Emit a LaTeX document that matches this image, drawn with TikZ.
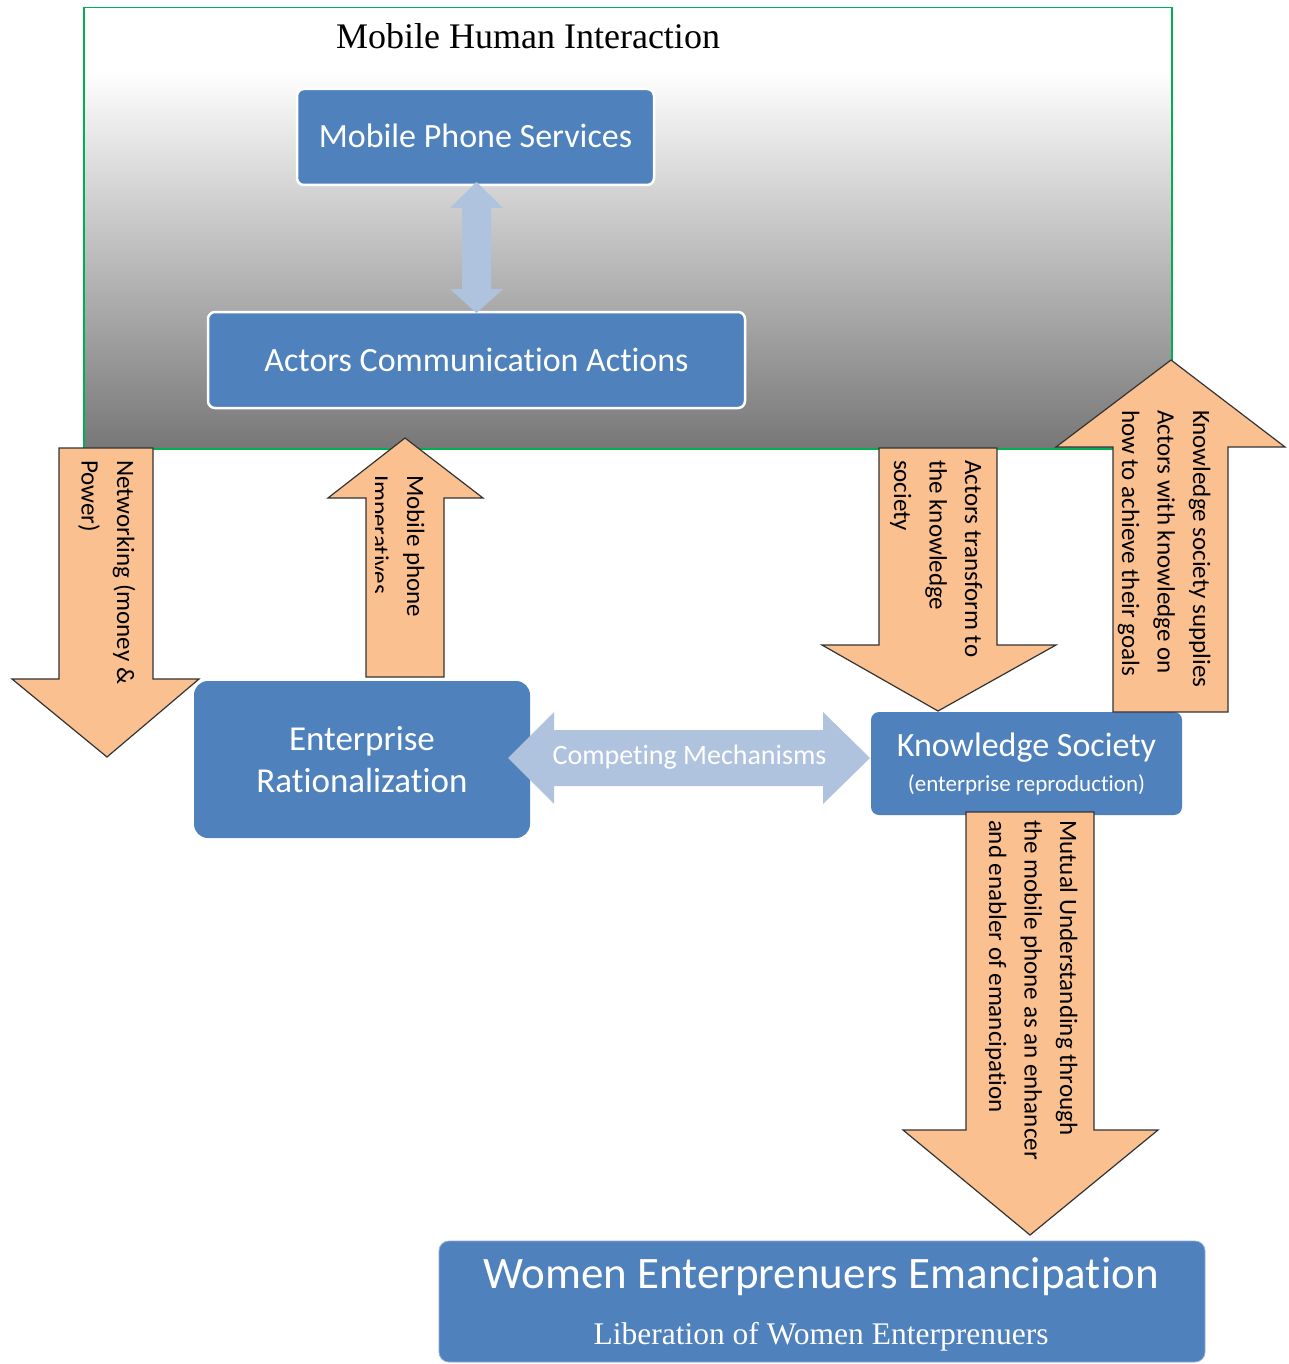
\documentclass[tikz,border=0pt]{standalone}
\usepackage{fontspec}
\setmainfont{Carlito}[Ligatures=NoCommon]
\newfontfamily\timesface{Liberation Serif}

\definecolor{boxblue}{HTML}{4F81BD}
\definecolor{peach}{HTML}{FAC090}
\definecolor{paleblue}{HTML}{B0C3DE}
\definecolor{framegreen}{HTML}{00B050}
\definecolor{shadebottom}{HTML}{777777}
\definecolor{shademid}{HTML}{C6C6C6}
% light at the top, darkening towards the bottom edge
\pgfdeclareverticalshading{mhishade}{100bp}{color(0bp)=(shadebottom); color(25bp)=(shadebottom); color(50bp)=(shademid); color(68bp)=(white); color(100bp)=(white)}

\newcommand\arrowstrut{\rule{0pt}{19pt}}

\begin{document}
\begin{tikzpicture}[x=1pt, y=-1pt,
  bluebox/.style={fill=boxblue, draw=none, text=white, inner sep=0pt},
  svcbox/.style={bluebox, draw=white, line width=2.5pt, rounded corners=7pt, font=\fontsize{34}{40}\selectfont},
  boxtext/.style={text=white, inner sep=0pt},
  blockarrow/.style={fill=peach, draw=black!80, line width=1.2pt, line join=miter},
  palearrow/.style={fill=paleblue, draw=none},
  arrowtext/.style={rotate=-90, anchor=north west, align=left, inner sep=0pt, outer sep=0pt, font=\fontsize{25}{35.5}\selectfont},
]
\useasboundingbox (0,0) rectangle (1289,1364);

% shaded frame of the mobile human interaction layer
\node[shading=mhishade, draw=framegreen, line width=1.5pt, anchor=north west,
      minimum width=1088pt, minimum height=441pt, inner sep=0pt] (mhi) at (83,7) {};
\node[font=\timesface\fontsize{36}{40}\selectfont, inner sep=0pt] (title) at (528,36) {Mobile Human Interaction};

% boxes inside the frame
\node[svcbox, minimum width=357pt, minimum height=96pt] (mps) at (475.5,137) {\raisebox{3pt}{Mobile Phone Services}};
\node[svcbox, minimum width=537pt, minimum height=96pt] (aca) at (476.5,360) {\raisebox{1pt}{Actors Communication Actions}};

% two-headed link between services and actions
\path[palearrow] (476.5,182) -- (503,208) -- (491,208) -- (491,289) -- (503,289) -- (476.5,313)
  -- (450,289) -- (462,289) -- (462,208) -- (450,208) -- cycle;

% enterprise and knowledge society boxes
\node[bluebox, minimum width=336pt, minimum height=157pt, rounded corners=14pt, align=center,
      font=\fontsize{35}{42}\selectfont] (ent) at (362,759.5) {Enterprise\\Rationalization};
\node[bluebox, minimum width=311pt, minimum height=103pt, rounded corners=8pt] (ks) at (1026.5,763.5) {};
\node[boxtext, font=\fontsize{34}{40}\selectfont] (kst) at (1026.5,748) {Knowledge Society};
\node[boxtext, font=\fontsize{23}{28}\selectfont] (ksu) at (1026.5,785) {(enterprise reproduction)};

% competing mechanisms two-headed arrow
\path[palearrow] (508,758) -- (554,712) -- (554,730) -- (823,730) -- (823,712) -- (870,758)
  -- (823,804) -- (823,786) -- (554,786) -- (554,804) -- cycle;
\node[boxtext, font=\fontsize{28}{32}\selectfont] (cm) at (689.5,757) {Competing Mechanisms};

% emancipation box
\node[bluebox, draw=white!35!boxblue, line width=0.8pt, minimum width=766pt, minimum height=121pt, rounded corners=10pt] (wee) at (822,1301.5) {};
\node[boxtext, font=\fontsize{45}{50}\selectfont] (weet) at (821,1277) {Women Enterprenuers Emancipation};
\node[boxtext, font=\timesface\fontsize{31.5}{36}\selectfont] (weeu) at (821,1337) {Liberation of Women Enterprenuers};

% block arrows
\path[blockarrow] (59,448) -- (153,448) -- (153,679) -- (199,679) -- (107,757) -- (12,679) -- (59,679) -- cycle;
\node[arrowtext] (netw) at (136,460) {\arrowstrut Networking (money \&\\Power)};

\path[blockarrow] (366,677) -- (444,677) -- (444,498) -- (483,498) -- (405,438) -- (328,498) -- (366,498) -- cycle;
\begin{scope}
  \clip (375,440) rectangle (444,677);
  \node[arrowtext] (mpi) at (426,475) {\arrowstrut Mobile phone\\Imperatives};
\end{scope}

\path[blockarrow] (879,448) -- (997,448) -- (997,645) -- (1056,645) -- (938,711) -- (822,645) -- (879,645) -- cycle;
\node[arrowtext] (atk) at (984,460) {\arrowstrut Actors transform to\\the knowledge\\society};

\path[blockarrow] (1113,712) -- (1228,712) -- (1228,447) -- (1285,447) -- (1171,360) -- (1056,447) -- (1113,447) -- cycle;
\node[arrowtext] (kss) at (1212,410) {\arrowstrut Knowledge society supplies\\Actors with knowledge on\\how to achieve their goals};

\path[blockarrow] (966,812) -- (1094,812) -- (1094,1130) -- (1158,1130) -- (1030,1235) -- (903,1130) -- (966,1130) -- cycle;
\node[arrowtext] (mut) at (1079,820) {\arrowstrut Mutual Understanding through\\the mobile phone as an enhancer\\and enabler of emancipation};

\end{tikzpicture}
\end{document}
